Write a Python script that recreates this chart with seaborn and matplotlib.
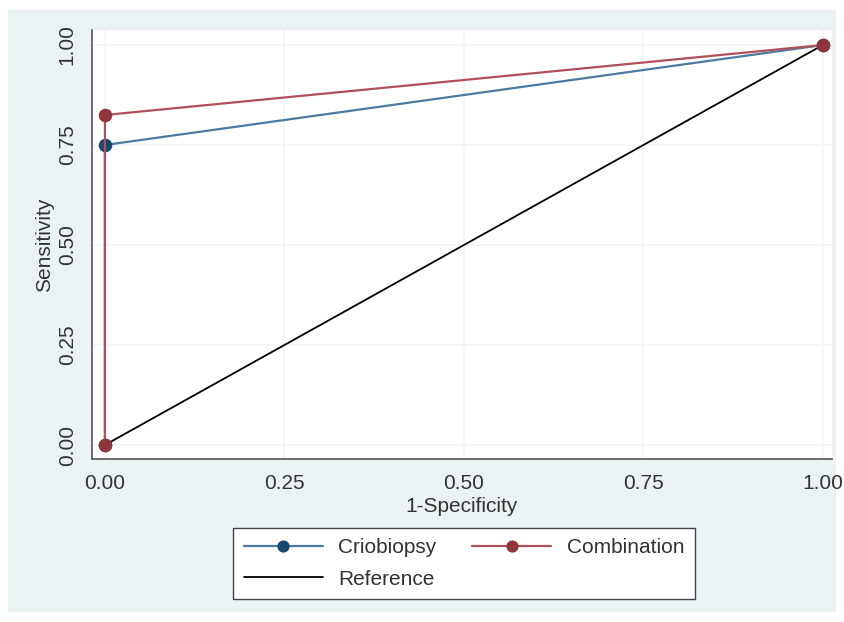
import pandas as pd
import matplotlib.pyplot as plt
import matplotlib.patches as mpatches
import seaborn as sns

# ROC points
crio_fpr = [0.0, 0.0, 1.0]
crio_tpr = [0.0, 0.75, 1.0]
comb_fpr = [0.0, 0.0, 1.0]
comb_tpr = [0.0, 0.825, 1.0]
ref_x = [0.0, 1.0]
ref_y = [0.0, 1.0]
ticks = [0.0, 0.25, 0.5, 0.75, 1.0]
tick_labels = ['0.00', '0.25', '0.50', '0.75', '1.00']

sns.set_style('white')
plt.rcParams['font.family'] = ['Liberation Sans', 'DejaVu Sans']

navy = '#1a476f'
navy_line = '#4d7aa0'
maroon = '#90353b'
maroon_line = '#b0505c'
bg = '#eaf2f3'

fig = plt.figure(figsize=(8.44, 6.22), dpi=100)
fig.patch.set_facecolor('white')
fig.patches.append(mpatches.Rectangle((8 / 844, 1 - 612 / 622), 828 / 844, 602 / 622,
                                      transform=fig.transFigure, facecolor=bg,
                                      edgecolor='none', zorder=-10))

ax = fig.add_axes([92 / 844, 1 - 459 / 622, 740 / 844, 429 / 622])
ax.set_facecolor('white')

crio = pd.DataFrame({'x': crio_fpr, 'y': crio_tpr})
comb = pd.DataFrame({'x': comb_fpr, 'y': comb_tpr})
ref = pd.DataFrame({'x': ref_x, 'y': ref_y})

sns.lineplot(data=ref, x='x', y='y', ax=ax, color='black', lw=1.3, sort=False,
             estimator=None, label='Reference', zorder=3)
sns.lineplot(data=crio, x='x', y='y', ax=ax, color=navy_line, lw=1.6, sort=False,
             estimator=None, marker='o', markersize=9, markerfacecolor=navy,
             markeredgecolor=navy, label='Criobiopsy', zorder=4)
sns.lineplot(data=comb, x='x', y='y', ax=ax, color=maroon_line, lw=1.6, sort=False,
             estimator=None, marker='o', markersize=9, markerfacecolor=maroon,
             markeredgecolor=maroon, label='Combination', zorder=5)

ax.set_xlim(-0.018, 1.0126)
ax.set_ylim(-0.035, 1.0375)
ax.set_xticks(ticks)
ax.set_xticklabels(tick_labels)
ax.set_yticks(ticks)
ax.set_yticklabels(tick_labels, rotation=90, va='center')
ax.grid(True, color='#f1f6f7', lw=1.2)
ax.set_axisbelow(True)
for s in ['top', 'right']:
    ax.spines[s].set_visible(False)
for s in ['left', 'bottom']:
    ax.spines[s].set_color('#555555')
    ax.spines[s].set_linewidth(1.2)
ax.tick_params(axis='both', direction='out', length=6, width=1, color='#555555',
               labelsize=15, labelcolor='#333333', pad=5)
ax.set_xlabel('1-Specificity', fontsize=15, color='#333333', labelpad=3)
ax.set_ylabel('Sensitivity', fontsize=15, color='#333333', labelpad=3)

h, l = ax.get_legend_handles_labels()
ax.get_legend().remove()
hd = dict(zip(l, h))
order = ['Criobiopsy', 'Reference', 'Combination']
leg = fig.legend([hd[k] for k in order], order, loc='center',
                 bbox_to_anchor=(464 / 844, 1 - 563.5 / 622), ncol=2, fontsize=15,
                 frameon=True, fancybox=False, edgecolor='#444444',
                 facecolor='white', framealpha=1,
                 handlelength=3.8, columnspacing=1.7, borderpad=0.5,
                 labelspacing=0.6, handletextpad=0.75, borderaxespad=0)
leg.get_frame().set_linewidth(1.0)
for t in leg.get_texts():
    t.set_color('#333333')
for lh in leg.legend_handles:
    lh.set_markersize(8)

fig.savefig('out.png', dpi=100, facecolor=fig.get_facecolor())
